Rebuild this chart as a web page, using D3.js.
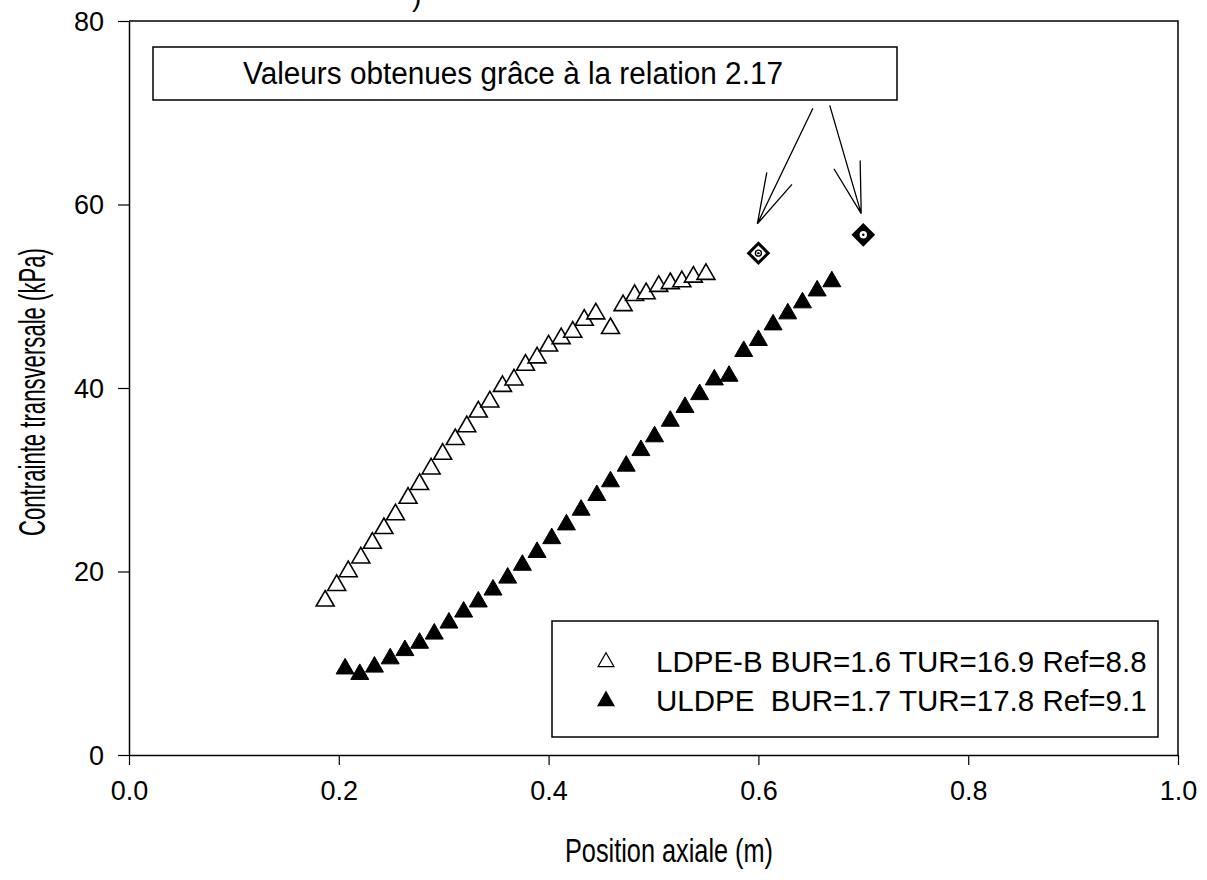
<!DOCTYPE html>
<html>
<head>
<meta charset="utf-8">
<script src="https://cdn.jsdelivr.net/npm/d3@7"></script>
<style>
  body { margin: 0; background: #fff; }
  svg { display: block; }
  text { font-family: Arial, "Liberation Sans", sans-serif; fill: #000; }
</style>
</head>
<body>
<svg id="chart"></svg>
<script>
'use strict';

// LDPE-B BUR=1.6 TUR=16.9 Ref=8.8 (open triangles)
const ldpeX = [0.187, 0.198, 0.209, 0.221, 0.232, 0.243, 0.254, 0.266, 0.277, 0.288,
               0.299, 0.311, 0.322, 0.333, 0.344, 0.356, 0.367, 0.378, 0.389, 0.400,
               0.412, 0.423, 0.434, 0.445, 0.459, 0.471, 0.482, 0.493, 0.505, 0.516,
               0.527, 0.538, 0.550];
const ldpeY = [16.8, 18.5, 20.0, 21.5, 23.1, 24.7, 26.2, 28.0, 29.5, 31.2,
               32.8, 34.4, 35.8, 37.4, 38.5, 40.2, 40.9, 42.5, 43.3, 44.6,
               45.4, 46.1, 47.4, 48.1, 46.5, 49.0, 50.1, 50.3, 51.1, 51.4,
               51.6, 52.1, 52.4];

// ULDPE BUR=1.7 TUR=17.8 Ref=9.1 (filled triangles)
const uldpeX = [0.206, 0.220, 0.234, 0.249, 0.263, 0.277, 0.291, 0.305, 0.319, 0.333,
                0.347, 0.361, 0.375, 0.389, 0.403, 0.417, 0.431, 0.446, 0.459, 0.474,
                0.488, 0.501, 0.516, 0.530, 0.544, 0.558, 0.572, 0.586, 0.600, 0.614,
                0.628, 0.642, 0.656, 0.670];
const uldpeY = [9.4, 8.8, 9.6, 10.5, 11.4, 12.2, 13.2, 14.4, 15.6, 16.7,
                18.0, 19.3, 20.7, 22.1, 23.6, 25.1, 26.7, 28.3, 29.8, 31.5,
                33.2, 34.7, 36.4, 37.9, 39.3, 40.9, 41.3, 44.0, 45.2, 46.9,
                48.1, 49.3, 50.6, 51.6];

// values from relation 2.17
const relX = [0.600, 0.700];
const relY = [54.7, 56.7];

const xTicks = [0, 0.2, 0.4, 0.6, 0.8, 1.0];
const yTicks = [0, 20, 40, 60, 80];
const legendLabels = ['LDPE-B BUR=1.6 TUR=16.9 Ref=8.8', 'ULDPE  BUR=1.7 TUR=17.8 Ref=9.1'];
const noteText = 'Valeurs obtenues grâce à la relation 2.17';

const width = 1207, height = 880;
const svg = d3.select('#chart')
    .attr('width', width)
    .attr('height', height);

const x = d3.scaleLinear().domain([0, 1]).range([129, 1178]);
const y = d3.scaleLinear().domain([0, 80]).range([755, 21]);

/**
 * Axes
 */
const xAxis = svg.append('g')
    .attr('transform', `translate(0, ${y(0)})`)
    .call(d3.axisBottom(x).tickValues(xTicks).tickFormat(d3.format('.1f')).tickSize(10).tickSizeOuter(0));
const yAxis = svg.append('g')
    .attr('transform', `translate(${x(0)}, 0)`)
    .call(d3.axisLeft(y).tickValues(yTicks).tickFormat(d3.format('d')).tickSize(11).tickSizeOuter(0));

[xAxis, yAxis].forEach(ax => {
    ax.select('.domain').attr('stroke', '#000').attr('stroke-width', 1.5);
    ax.selectAll('.tick line').attr('stroke', '#000').attr('stroke-width', 1.2);
    ax.selectAll('.tick text')
        .style('font-family', 'Arial, "Liberation Sans", sans-serif')
        .style('font-size', '27px');
});
xAxis.selectAll('.tick text').attr('dy', '1.2em');
yAxis.selectAll('.tick text').attr('x', -25).attr('dy', '0.35em');

// frame top and right
svg.append('path')
    .attr('d', `M${x(0)},${y(80)} L${x(1)},${y(80)} L${x(1)},${y(0)}`)
    .attr('fill', 'none')
    .attr('stroke', '#000')
    .attr('stroke-width', 1.5);

/**
 * Axis titles
 */
svg.append('text')
    .attr('x', 565)
    .attr('y', 862)
    .attr('textLength', 208)
    .attr('lengthAdjust', 'spacingAndGlyphs')
    .style('font-size', '34px')
    .text('Position axiale (m)');

svg.append('text')
    .attr('transform', `translate(45, 536) rotate(-90)`)
    .attr('textLength', 288)
    .attr('lengthAdjust', 'spacingAndGlyphs')
    .style('font-size', '37px')
    .text('Contrainte transversale (kPa)');

// clipped glyph at the very top
svg.append('text')
    .attr('x', 412)
    .attr('y', 6)
    .style('font-size', '28px')
    .text(')');

/**
 * Data markers
 */
const tri = d3.symbol().type(d3.symbolTriangle).size(140);

svg.append('g').selectAll('path')
    .data(d3.zip(ldpeX, ldpeY))
    .join('path')
    .attr('d', tri)
    .attr('transform', d => `translate(${x(d[0])}, ${y(d[1])})`)
    .attr('fill', '#fff')
    .attr('stroke', '#000')
    .attr('stroke-width', 1.6);

svg.append('g').selectAll('path')
    .data(d3.zip(uldpeX, uldpeY))
    .join('path')
    .attr('d', tri)
    .attr('transform', d => `translate(${x(d[0])}, ${y(d[1])})`)
    .attr('fill', '#000')
    .attr('stroke', '#000')
    .attr('stroke-width', 1);

// relation 2.17 diamonds
const diamond = d3.symbol().type(d3.symbolSquare).size(190);
const rel = svg.append('g').selectAll('g')
    .data(d3.zip(relX, relY))
    .join('g')
    .attr('transform', d => `translate(${x(d[0])}, ${y(d[1])})`);
rel.append('path')
    .attr('d', diamond)
    .attr('transform', 'rotate(45)')
    .attr('fill', (d, i) => i == 0 ? '#fff' : '#000')
    .attr('stroke', '#000')
    .attr('stroke-width', 3);
rel.append('circle')
    .attr('r', 3)
    .attr('fill', '#fff')
    .attr('stroke', (d, i) => i == 0 ? '#000' : '#fff')
    .attr('stroke-width', 1.4);
rel.append('circle')
    .attr('r', 1.2)
    .attr('fill', '#000');

/**
 * Annotation box and arrows
 */
svg.append('rect')
    .attr('x', 153)
    .attr('y', 47)
    .attr('width', 744)
    .attr('height', 53)
    .attr('fill', '#fff')
    .attr('stroke', '#000')
    .attr('stroke-width', 1.5);
svg.append('text')
    .attr('x', 243)
    .attr('y', 84)
    .attr('textLength', 540)
    .attr('lengthAdjust', 'spacingAndGlyphs')
    .style('font-size', '31px')
    .text(noteText);

const arrows = [
    { from: [0.652, 70.5], tip: [0.599, 57.9], heads: [[0.608, 63.5], [0.632, 62.2]] },
    { from: [0.668, 70.8], tip: [0.698, 59.0], heads: [[0.697, 64.8], [0.672, 63.9]] }
];
const arrowG = svg.append('g')
    .attr('stroke', '#000')
    .attr('stroke-width', 1.3)
    .attr('fill', 'none');
arrows.forEach(a => {
    arrowG.append('path')
        .attr('d', `M${x(a.from[0])},${y(a.from[1])} L${x(a.tip[0])},${y(a.tip[1])}` +
            a.heads.map(h => ` M${x(h[0])},${y(h[1])} L${x(a.tip[0])},${y(a.tip[1])}`).join(''));
});

/**
 * Legend
 */
svg.append('rect')
    .attr('x', 552)
    .attr('y', 621)
    .attr('width', 606)
    .attr('height', 116)
    .attr('fill', '#fff')
    .attr('stroke', '#000')
    .attr('stroke-width', 1.5);

const legend = svg.append('g').selectAll('g')
    .data(legendLabels)
    .join('g')
    .attr('transform', (d, i) => `translate(606, ${662 + i * 39})`);
legend.append('path')
    .attr('d', d3.symbol().type(d3.symbolTriangle).size(110))
    .attr('fill', (d, i) => i == 0 ? '#fff' : '#000')
    .attr('stroke', '#000')
    .attr('stroke-width', 1.2);
legend.append('text')
    .attr('x', 50)
    .attr('dy', '0.35em')
    .style('font-size', '29.5px')
    .style('white-space', 'pre')
    .text(d => d);
</script>
</body>
</html>
